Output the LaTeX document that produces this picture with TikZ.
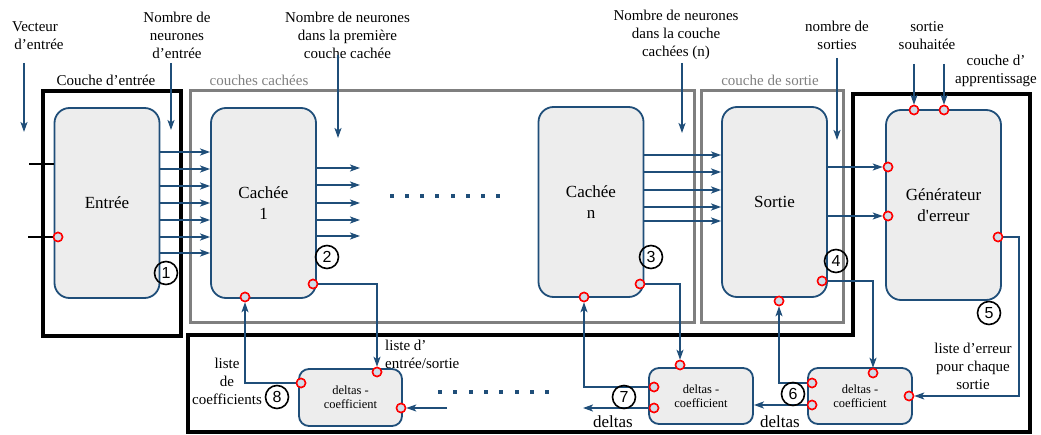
\documentclass[tikz,border=0pt]{standalone}
\usepackage{fontspec}
\setmainfont{Liberation Serif}
\newfontfamily\rawserif{Liberation Serif}[Ligatures=TeXOff]
\newfontfamily\numfont{Liberation Sans}
\usetikzlibrary{arrows.meta}
\definecolor{nblue}{HTML}{1F4E79}
\definecolor{boxfill}{HTML}{EDEDED}
\definecolor{portfill}{HTML}{D0DCE8}
\definecolor{lgray}{HTML}{7F7F7F}
\definecolor{tgray}{HTML}{808080}
\begin{document}
\begin{tikzpicture}[x=1pt,y=-1pt,
  lbl/.style={font=\fontsize{15}{18}\selectfont, align=center, inner sep=0},
  glbl/.style={lbl, text=tgray},
  layerbox/.style={draw=nblue, line width=1.8pt, fill=boxfill, rounded corners=15pt, minimum width=105pt, minimum height=190pt, align=center, font=\fontsize{17}{21}\selectfont, inner sep=0},
  dbox/.style={draw=nblue, line width=1.8pt, fill=boxfill, rounded corners=10pt, minimum width=104pt, minimum height=56pt, align=center, inner sep=0, font=\fontsize{12.5}{14}\selectfont},
  port/.style={circle, draw=red, line width=1.5pt, fill=portfill, minimum size=9pt, inner sep=0},
  num/.style={circle, draw=black, line width=1.6pt, minimum size=23pt, inner sep=0, font=\numfont\fontsize{16}{16}\selectfont},
  arr/.style={draw=nblue, line width=1.8pt, -{Stealth[length=10pt,width=7pt,inset=2.5pt]}},
  frameblack/.style={draw=black, line width=4pt},
  framegray/.style={draw=lgray, line width=3pt},
]
\useasboundingbox (0,0) rectangle (1041,435);

% frames
\draw[frameblack] (43,91) rectangle (181,336);
\draw[framegray] (190,91) rectangle (694,323);
\draw[framegray] (701,91) rectangle (843,323);
\draw[frameblack] (853,94) -- (1030,94) -- (1030,432) -- (188,432) -- (188,335) -- (853,335) -- cycle;

% frame labels
\node[lbl] (lce) at (106,80) {Couche d’entrée};
\node[glbl] (lcc) at (259,80) {couches cachées};
\node[glbl] (lcs) at (770,80) {couche de sortie};
\node[lbl] (lca) at (996,71) {couche d’\\apprentissage};

% top labels
\node[lbl] (vec) at (35,35.5) {Vecteur\\\hspace*{8pt}d’entrée};
\node[lbl] (nne) at (177,35) {Nombre de\\neurones\\d’entrée};
\node[lbl] (nnc) at (347.5,35) {Nombre de neurones\\dans la première\\couche cachée};
\node[lbl] (nnn) at (676,35) {Nombre de neurones\\dans la couche\\cachées (n)};
\node[lbl] (nso) at (837,35.5) {nombre de\\sorties};
\node[lbl] (sso) at (927,35.5) {sortie\\souhaitée};

% main boxes
\node[layerbox] (entree) at (107,203) {Entrée};
\node[layerbox] (cache1) at (263.5,203) {Cachée\\1};
\node[layerbox] (cachen) at (591,202) {Cachée\\n};
\node[layerbox] (sortie) at (774.5,202) {Sortie};
\node[layerbox, minimum width=115pt] (gen) at (943.5,205) {Générateur\\d{\rawserif '}erreur};

% bottom boxes
\node[dbox, minimum width=103pt, minimum height=57pt] (b8) at (350.5,397.5) {deltas -\\coefficient};
\node[dbox] (b7) at (701,396) {deltas -\\coefficient};
\node[dbox] (b6) at (860,396) {deltas -\\coefficient};

% ports
\node[port] (e1) at (58,237) {};
\node[port] (c1b) at (245,297) {};
\node[port] (c1r) at (313,284) {};
\node[port] (cnb) at (584,297) {};
\node[port] (cnr) at (640,284) {};
\node[port] (sb) at (779,301) {};
\node[port] (sr) at (822,281) {};
\node[port] (gl1) at (888,167) {};
\node[port] (gl2) at (888,216) {};
\node[port] (gr) at (998,237) {};
\node[port] (gt1) at (914,110) {};
\node[port] (gt2) at (944,110) {};
\node[port] (b8l) at (301,383) {};
\node[port] (b8t) at (377,372) {};
\node[port] (b8r) at (401,408) {};
\node[port] (b7t) at (680,365) {};
\node[port] (b7a) at (654,387) {};
\node[port] (b7b) at (654,408) {};
\node[port] (b6t) at (873,373) {};
\node[port] (b6a) at (812,383) {};
\node[port] (b6b) at (812,405) {};
\node[port] (b6r) at (909,396) {};

% input ticks
\coordinate (t1) at (29,164);
\coordinate (t2) at (28,237);
\draw[black, line width=1.8pt] (t1) -- (entree.west |- t1);
\draw[black, line width=1.8pt] (t2) -- (e1);

% top arrows
\coordinate (vs) at (24,63); \coordinate (ve) at (24,132);
\draw[arr] (vs) -- (ve);
\coordinate (ns) at (171,63); \coordinate (ne) at (171,130);
\draw[arr] (ns) -- (ne);
\coordinate (cs) at (338,55); \coordinate (ce) at (338,138);
\draw[arr] (cs) -- (ce);
\coordinate (hs) at (682,63); \coordinate (he) at (682,133);
\draw[arr] (hs) -- (he);
\coordinate (os) at (837,58); \coordinate (oe) at (837,140);
\draw[arr] (os) -- (oe);
\coordinate (d1) at (914,64); \coordinate (d2) at (944,64);
\draw[arr] (d1) -- (gt1);
\draw[arr] (d2) -- (gt2);

% layer connections
\foreach \y in {152,169,186,203,220,237,253}
  \draw[arr] (entree.east |- 0,\y) -- (cache1.west |- 0,\y);
\foreach \y in {168,185,203,220,236} {
  \coordinate (o\y) at (360,\y);
  \draw[arr] (cache1.east |- 0,\y) -- (o\y);
}
\foreach \y in {155,172,190,207,221}
  \draw[arr] (cachen.east |- 0,\y) -- (sortie.west |- 0,\y);
\draw[arr] (sortie.east |- gl1) -- (gl1);
\draw[arr] (sortie.east |- gl2) -- (gl2);

% dotted lines
\foreach \i in {0,...,7}
  \fill[nblue] (392+15.14*\i-2,194) rectangle ++(4,4);
\foreach \i in {0,...,7}
  \fill[nblue] (440+15.3*\i-2,390) rectangle ++(4,4);

% back-propagation connections
\draw[arr] (c1r) -| (b8t);
\draw[arr] (cnr) -| (b7t);
\draw[arr] (sr) -| (b6t);
\draw[arr] (gr) -- ++(21,0) |- (b6r);
\draw[arr] (b6a) -| (sb);
\draw[arr] (b6b) -- (b6b -| b7.east);
\draw[arr] (b7a) -| (cnb);
\coordinate (dl) at (583,408);
\draw[arr] (b7b) -- (dl);
\coordinate (dr) at (447,408);
\draw[arr] (dr) -- (b8r);
\draw[arr] (b8l) -| (c1b);

% redraw ports on top
\foreach \p in {e1,c1b,c1r,cnb,cnr,sb,sr,gl1,gl2,gr,gt1,gt2,b8l,b8t,b8r,b7t,b7a,b7b,b6t,b6a,b6b,b6r}
  \node[port] at (\p) {};

% bottom labels
\node[lbl, align=left, anchor=west] (lio) at (385,354) {liste d’\\entrée/sortie};
\node[lbl] (lco) at (227,381) {liste\\de\\coefficients};
\node[lbl] (ler) at (973,366) {liste d’erreur\\pour chaque\\sortie};
\node[lbl, font=\fontsize{17}{20}\selectfont] (dl1) at (613,422) {deltas};
\node[lbl, font=\fontsize{17}{20}\selectfont] (dl2) at (780,422) {deltas};

% numbered circles
\node[num] (n1) at (166,273) {1};
\node[num] (n2) at (327,257) {2};
\node[num] (n3) at (651,257) {3};
\node[num] (n4) at (836,261) {4};
\node[num] (n5) at (989,313) {5};
\node[num] (n6) at (793,394) {6};
\node[num] (n7) at (624,397) {7};
\node[num] (n8) at (277,397) {8};
\end{tikzpicture}
\end{document}
